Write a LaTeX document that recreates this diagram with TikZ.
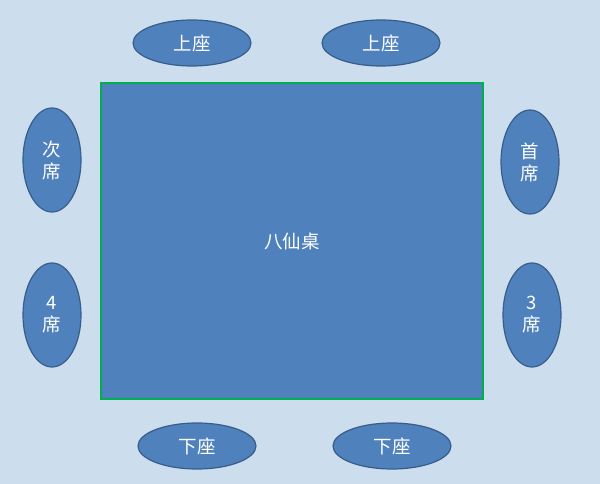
\documentclass[tikz,border=0pt]{standalone}
\usepackage{fontspec}
\newfontfamily\cjk{Noto Sans CJK SC}
\usetikzlibrary{shapes.geometric}
\definecolor{bgblue}{HTML}{CCDEEE}
\definecolor{seatfill}{HTML}{4F81BD}
\definecolor{seatline}{HTML}{385D8A}
\definecolor{tableline}{HTML}{00B050}
\tikzset{
  seat/.style={ellipse, draw=seatline, line width=1.2pt, fill=seatfill, text=white, inner sep=0pt,
    font=\cjk\fontsize{18.5}{22}\selectfont, align=center},
  hseat/.style={seat, minimum width=118pt, minimum height=46pt},
  vseat/.style={seat, minimum width=58pt, minimum height=104pt},
}
\begin{document}
\begin{tikzpicture}[x=1pt,y=-1pt]
\fill[bgblue] (0,0) rectangle (600,484);
\useasboundingbox (0,0) rectangle (600,484);
\node[draw=tableline, line width=1.5pt, fill=seatfill, text=white, inner sep=0pt,
  minimum width=382pt, minimum height=316pt, font=\cjk\fontsize{18.5}{22}\selectfont] (table) at (292,241) {八仙桌};
\node[hseat] (up1) at (192,43) {上座};
\node[hseat] (up2) at (381,43) {上座};
\node[vseat] (ci) at (52,160) {次\\席};
\node[vseat] (shou) at (530,162) {首\\席};
\node[vseat] (four) at (52,315) {4\\席};
\node[vseat] (three) at (532,315) {3\\席};
\node[hseat] (down1) at (197,446) {下座};
\node[hseat] (down2) at (392,446) {下座};
\end{tikzpicture}
\end{document}
